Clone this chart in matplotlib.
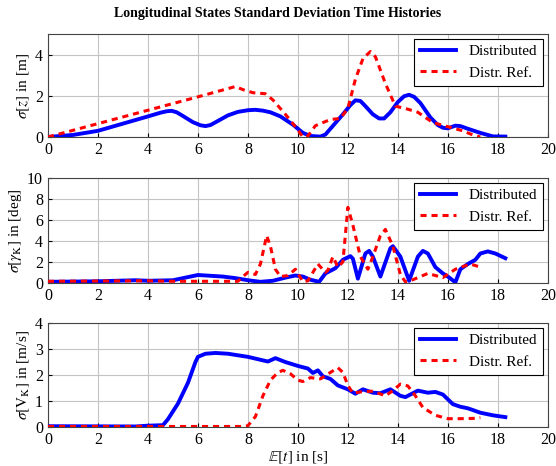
import matplotlib
matplotlib.use('Agg')
import matplotlib.pyplot as plt
import numpy as np

plt.rcParams['font.family'] = ['Liberation Serif', 'DejaVu Serif']
plt.rcParams['mathtext.fontset'] = 'stix'

# sigma[z]
t_z_dist = [0, 1, 2, 3, 4, 4.5, 4.75, 4.95, 5.15, 5.4, 5.8, 6.1, 6.3, 6.5, 6.8, 7.2, 7.6,
            8.0, 8.3, 8.6, 8.9, 9.3, 9.8, 10.2, 10.5, 10.9, 11.1, 11.3, 11.8, 12.1, 12.3,
            12.5, 12.7, 13.0, 13.25, 13.45, 13.7, 14.0, 14.25, 14.45, 14.65, 14.9, 15.3,
            15.6, 15.8, 16.0, 16.3, 16.5, 16.8, 17.3, 17.8, 18.3]
z_dist = [0, 0.1, 0.3, 0.65, 1.0, 1.18, 1.25, 1.27, 1.2, 1.02, 0.72, 0.57, 0.53, 0.58, 0.78,
          1.05, 1.22, 1.3, 1.32, 1.28, 1.2, 1.0, 0.6, 0.2, 0.05, 0.02, 0.12, 0.4, 1.1, 1.55,
          1.78, 1.75, 1.5, 1.1, 0.9, 0.9, 1.2, 1.7, 1.98, 2.05, 1.95, 1.65, 0.95, 0.58, 0.45,
          0.42, 0.55, 0.53, 0.4, 0.2, 0.03, 0.02]
t_z_ref = [0, 2, 4, 6, 7.5, 7.8, 8.2, 8.7, 9.0, 9.5, 9.9, 10.2, 10.4, 10.7, 11.3, 11.7, 12.0,
           12.3, 12.6, 12.9, 13.1, 13.5, 13.9, 14.4, 14.8, 15.4, 16.0, 16.6, 17.0, 17.3]
z_ref = [0, 0.65, 1.3, 1.95, 2.45, 2.3, 2.15, 2.1, 1.8, 1.1, 0.5, 0.0, 0.05, 0.55, 0.85, 0.9,
         1.4, 2.8, 3.8, 4.15, 3.9, 2.6, 1.5, 1.35, 1.2, 0.7, 0.5, 0.3, 0.1, 0.0]

# sigma[gamma_K]
t_g_dist = [0, 2, 3.5, 4, 5, 5.5, 6, 7, 7.5, 8, 8.5, 9, 9.5, 9.9, 10.2, 10.5, 10.85, 11.1,
            11.5, 11.8, 12.1, 12.2, 12.4, 12.7, 12.85, 13.0, 13.3, 13.7, 13.8, 14.1, 14.45,
            14.8, 15.0, 15.2, 15.5, 15.8, 16.0, 16.3, 16.5, 16.8, 17.1, 17.3, 17.6, 17.9, 18.3]
g_dist = [0.1, 0.15, 0.25, 0.2, 0.25, 0.5, 0.75, 0.6, 0.45, 0.25, 0.1, 0.2, 0.5, 0.7, 0.6,
          0.3, 0.1, 0.9, 1.4, 2.2, 2.55, 2.3, 0.4, 2.8, 3.05, 2.5, 0.6, 3.3, 3.5, 2.5, 0.2,
          2.5, 3.05, 2.8, 1.5, 0.9, 0.6, 0.05, 1.3, 1.8, 2.2, 2.8, 3.0, 2.8, 2.35]
t_g_ref = [0, 4, 5, 6, 7.6, 7.8, 8.0, 8.3, 8.5, 8.75, 8.9, 9.1, 9.3, 9.6, 9.9, 10.2, 10.4,
           10.8, 11.1, 11.2, 11.4, 11.6, 11.8, 12.0, 12.2, 12.5, 12.8, 13.0, 13.3, 13.5, 13.8,
           14.1, 14.3, 14.6, 15.2, 15.8, 16.3, 16.9, 17.3]
g_ref = [0.15, 0.2, 0.15, 0.15, 0.15, 0.6, 1.0, 0.8, 1.8, 4.5, 3.5, 1.3, 0.6, 0.7, 1.3, 0.1,
         0.2, 1.8, 1.0, 1.2, 2.5, 1.5, 2.0, 7.2, 5.5, 2.5, 1.3, 2.5, 4.5, 5.1, 3.5, 0.8, 0.1,
         0.3, 0.9, 0.5, 1.3, 1.8, 1.5]

# sigma[V_K]
t_v_dist = [0, 3.5, 4.0, 4.6, 4.8, 5.2, 5.6, 5.9, 6.0, 6.3, 6.7, 7.2, 8.0, 8.8, 9.1, 9.5,
            10.0, 10.4, 10.6, 10.8, 11.0, 11.3, 11.6, 12.0, 12.3, 12.6, 13.0, 13.3, 13.7,
            14.1, 14.3, 14.8, 15.2, 15.5, 15.8, 16.2, 16.5, 16.8, 17.3, 17.8, 18.3]
v_dist = [0.03, 0.02, 0.05, 0.07, 0.3, 0.9, 1.7, 2.5, 2.7, 2.82, 2.85, 2.82, 2.7, 2.52, 2.65,
          2.5, 2.35, 2.25, 2.08, 2.18, 1.95, 1.85, 1.6, 1.45, 1.28, 1.45, 1.32, 1.3, 1.45,
          1.2, 1.15, 1.4, 1.32, 1.35, 1.25, 0.88, 0.78, 0.72, 0.55, 0.45, 0.38]
t_v_ref = [0, 7.8, 8.0, 8.3, 8.6, 8.9, 9.2, 9.4, 9.7, 10.0, 10.2, 10.5, 10.9, 11.3, 11.6,
           11.8, 12.0, 12.2, 12.5, 13.0, 13.5, 13.8, 14.1, 14.4, 14.7, 15.0, 15.5, 16.0,
           16.5, 17.0, 17.3]
v_ref = [0.02, 0.02, 0.05, 0.4, 1.2, 1.8, 2.1, 2.18, 2.05, 1.8, 1.75, 1.9, 1.85, 2.1, 2.28,
         2.1, 1.6, 1.3, 1.35, 1.38, 1.2, 1.4, 1.65, 1.58, 1.2, 0.75, 0.45, 0.32, 0.32, 0.33,
         0.36]

panels = [
    (t_z_dist, z_dist, t_z_ref, z_ref, 5, [0, 2, 4], r'$\sigma[z]$ in [m]'),
    (t_g_dist, g_dist, t_g_ref, g_ref, 10, [0, 2, 4, 6, 8, 10], r'$\sigma[\gamma_\mathrm{K}]$ in [deg]'),
    (t_v_dist, v_dist, t_v_ref, v_ref, 4, [0, 1, 2, 3, 4], r'$\sigma[\mathrm{V_K}]$ in [m/s]'),
]

fig = plt.figure(figsize=(5.56, 4.66), dpi=100)
boxes = [(0.0863, 0.706, 0.899, 0.221),
         (0.0863, 0.393, 0.899, 0.225),
         (0.0863, 0.0837, 0.899, 0.223)]

for box, (td, yd, tr, yr, ymax, yt, ylab) in zip(boxes, panels):
    ax = fig.add_axes(box)
    ax.plot(td, yd, color='blue', lw=2.8, label='Distributed', zorder=3)
    ax.plot(tr, yr, color='red', lw=2.2, ls=(0, (2, 1.6)), label='Distr. Ref.', zorder=3)
    ax.set_xlim(0, 20)
    ax.set_ylim(0, ymax)
    ax.set_xticks(range(0, 21, 2))
    ax.set_yticks(yt)
    ax.grid(True, color='#c4c4c4', lw=0.8)
    ax.tick_params(labelsize=11.5, direction='in', length=3)
    ax.set_ylabel(ylab, fontsize=11, labelpad=2)
    for s in ax.spines.values():
        s.set_color('#444444')
    leg = ax.legend(loc='upper right', fontsize=11, fancybox=False, framealpha=1,
                    edgecolor='black', handlelength=2.4, borderaxespad=0.3)
    leg.get_frame().set_linewidth(0.8)

ax.set_xlabel(r'$\mathbb{E}[t]$ in [s]', fontsize=11, labelpad=1)
fig.suptitle('Longitudinal States Standard Deviation Time Histories', fontsize=10,
             fontweight='bold', y=0.985)

fig.savefig('out.png', dpi=100)
